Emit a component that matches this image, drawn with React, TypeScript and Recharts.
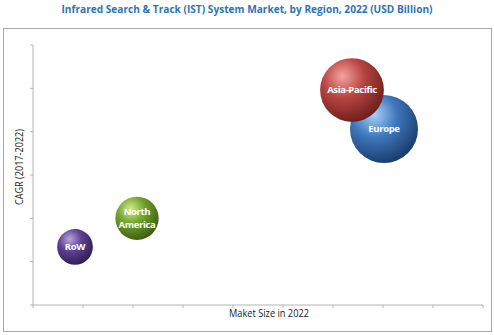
import { ScatterChart, Scatter, XAxis, YAxis, ZAxis } from 'recharts'

const regions = ['RoW', 'North America', 'Europe', 'Asia-Pacific']
const marketSize = [0.84, 2.08, 7.02, 6.38]
const cagr = [1.34, 2.0, 4.06, 4.96]
const bubble = [0.32, 0.47, 1.16, 1.02]
const xTicks = [0, 1, 2, 3, 4, 5, 6, 7, 8, 9]
const yTicks = [0, 1, 2, 3, 4, 5, 6]

const COLORS: Record<string, [string, string, string]> = {
  'RoW': ['#b7a3dc', '#5e4193', '#2e1b52'],
  'North America': ['#d2ec8c', '#72a22c', '#3b5a10'],
  'Asia-Pacific': ['#f3a3a0', '#b84541', '#6a1d1b'],
  'Europe': ['#a9d1fb', '#3f78bd', '#18396a'],
}

const data = regions.map((name, i) => ({ name, x: marketSize[i], y: cagr[i], z: bubble[i], id: i }))

const Bubble = (p: any) => {
  const r = p.width / 2
  const lines = String(p.payload.name).split(' ')
  const gid = `g${p.payload.id}`
  const [hi, mid, lo] = COLORS[p.payload.name]
  return (
    <g>
      <defs>
        <radialGradient id={gid} cx="38%" cy="32%" r="72%" fx="35%" fy="28%">
          <stop offset="0%" stopColor={hi} />
          <stop offset="45%" stopColor={mid} />
          <stop offset="100%" stopColor={lo} />
        </radialGradient>
      </defs>
      <circle cx={p.cx} cy={p.cy} r={r} fill={`url(#${gid})`} />
      {lines.map((l, i) => (
        <text key={i} x={p.cx} y={p.cy + (i - (lines.length - 1) / 2) * 12.5} dy="0.35em" textAnchor="middle"
          fill="#fff" fontSize={9.5} fontWeight="bold" fontFamily="'Open Sans', sans-serif" letterSpacing={-0.35}>{l}</text>
      ))}
    </g>
  )
}

const NoLabel = () => <g />

export default function App() {
  return (
    <div style={{ position: 'absolute', left: 0, top: 0, width: 494, height: 335, background: '#fff' }}>
      <div style={{ position: 'absolute', left: 3, top: 28, width: 487, height: 302, border: '1px solid #a8a8a8' }} />
      <svg width={494} height={335} style={{ position: 'absolute', left: 0, top: 0 }}>
        <text x={247} y={13} textAnchor="middle" fill="#2e74b5" fontSize={11} fontWeight="bold"
          fontFamily="'Open Sans', sans-serif" textLength={371} lengthAdjust="spacingAndGlyphs">
          Infrared Search &amp; Track (IST) System Market, by Region, 2022 (USD Billion)
        </text>
        <text x={269} y={317} textAnchor="middle" fill="#222" fontSize={10}
          fontFamily="'Open Sans', sans-serif" textLength={80} lengthAdjust="spacingAndGlyphs">Maket Size in 2022</text>
        <text x={0} y={0} transform="translate(23,167) rotate(-90)" textAnchor="middle" fill="#222" fontSize={10}
          fontFamily="'Open Sans', sans-serif" textLength={76} lengthAdjust="spacingAndGlyphs">CAGR (2017-2022)</text>
      </svg>
      <div style={{ position: 'absolute', left: 0, top: 0 }}>
        <ScatterChart width={494} height={335} margin={{ top: 45, right: 11, bottom: 0, left: 0 }}>
          <XAxis type="number" dataKey="x" domain={[0, 9]} ticks={xTicks} tick={NoLabel} height={30}
            stroke="#b4b4b4" tickSize={3} />
          <YAxis type="number" dataKey="y" domain={[0, 6]} ticks={yTicks} tick={NoLabel} width={33}
            stroke="#b4b4b4" tickSize={3} />
          <ZAxis type="number" dataKey="z" domain={[0, 1.2]} range={[0, 3760]} />
          <Scatter data={data} shape={Bubble} isAnimationActive={false} />
        </ScatterChart>
      </div>
    </div>
  )
}
